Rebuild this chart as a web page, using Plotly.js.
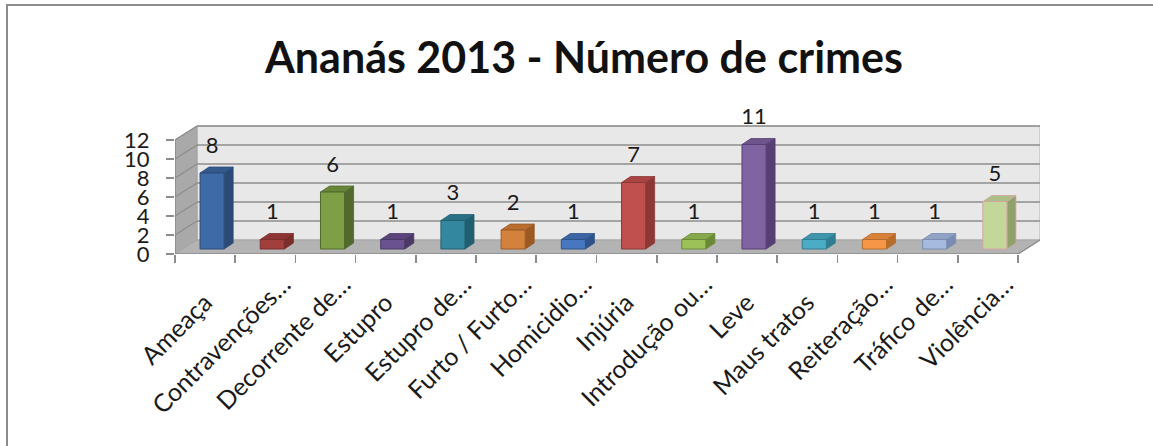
<!DOCTYPE html>
<html>
<head>
<meta charset="utf-8">
<script src="https://cdn.plot.ly/plotly-3.0.1.min.js"></script>
<style>
  html, body { margin: 0; padding: 0; background: #fff; }
  #wrap { position: relative; width: 1153px; height: 446px; overflow: hidden; }
  #chart { position: absolute; left: 0; top: 0; width: 1153px; height: 446px; }
  #frame { position: absolute; left: 6px; top: 4px; width: 1200px; height: 500px;
           border-left: 2px solid #8c8c8c; border-top: 2px solid #8c8c8c; pointer-events: none; }
</style>
</head>
<body>
<div id="wrap">
  <div id="chart"></div>
  <div id="frame"></div>
</div>
<script>
// ---- data ----
const chartTitle = "Ananás 2013 - Número de crimes";
const categories = ["Ameaça", "Contravenções…", "Decorrente de…", "Estupro", "Estupro de…",
  "Furto / Furto…", "Homicidio…", "Injúria", "Introdução ou…", "Leve", "Maus tratos",
  "Reiteração…", "Tráfico de…", "Violência…"];
const values = [8, 1, 6, 1, 3, 2, 1, 7, 1, 11, 1, 1, 1, 5];
const yTickVals = [0, 2, 4, 6, 8, 10, 12];
const yMax = 12;

// ---- styles ----
const frontColors = ['#3e6ba7', '#a23f3c', '#7f9f46', '#6a5190', '#33879f', '#d3823c', '#4677c0',
  '#c0504d', '#9cc158', '#8064a2', '#4bacc6', '#f79646', '#a6b9de', '#c4d79b'];
const sideColors = ['#2b4b76', '#7a2d2b', '#51692c', '#4a3866', '#215f70', '#9b5a24', '#2f5389',
  '#8c3836', '#6b8a38', '#563f73', '#2f7d91', '#b86c2c', '#7a8db0', '#8fa06b'];
const topColors = ['#34598c', '#8e3533', '#688638', '#5a4479', '#2a7186', '#b96d2f', '#3a64a3',
  '#a94442', '#85a84a', '#6d558b', '#3f95ac', '#d88139', '#90a3c6', '#acbe85'];
const outlineColors = sideColors.slice(0, 13).concat(['#d4a5a5']);
const FONT = 'Lato, "Open Sans", sans-serif';

const pxPerCat = 60.2, pxPerUnit = 9.5;
const wallDx = 22 / pxPerCat, wallDy = 14 / pxPerUnit;   // depth of the 3D box
const barDx = 9 / pxPerCat, barDy = 6 / pxPerUnit;       // depth of each bar
const barShift = 7 / pxPerCat, barBase = 5 / pxPerUnit;  // bar placed inside depth
const barW = 0.4;
const labelLift = 2.7;
// untruncated labels sit a little lower-left in the original, as if centred in their slot
const shortPad = '\u00a0\u00a0\u00a0\u00a0';

const idx = categories.map((c, i) => i);
const tickText = categories.map(c => c.endsWith('…') ? c : c + shortPad);
const nCat = categories.length;
const left = -0.5, right = nCat - 0.5;
const boundaries = [];
for (let i = 0; i <= nCat; i++) boundaries.push(i - 0.5);

const shapes = [];
function poly(pts, fill, line, lw) {
  const path = 'M' + pts.map(p => p[0] + ',' + p[1]).join('L') + 'Z';
  shapes.push({type: 'path', xref: 'x', yref: 'y', path: path, fillcolor: fill,
    line: {color: line || fill, width: lw === undefined ? 1 : lw}, layer: 'below'});
}
function seg(x0, y0, x1, y1, color, w) {
  shapes.push({type: 'line', xref: 'x', yref: 'y', x0: x0, y0: y0, x1: x1, y1: y1,
    line: {color: color, width: w || 1.5}, layer: 'below'});
}

// back wall
poly([[left + wallDx, wallDy], [right + wallDx, wallDy], [right + wallDx, yMax + wallDy], [left + wallDx, yMax + wallDy]], '#e8e8e8', '#b4b4b4', 1);
// side wall
poly([[left, 0], [left + wallDx, wallDy], [left + wallDx, yMax + wallDy], [left, yMax]], '#a9a9a9', '#a0a0a0', 1);
// floor
poly([[left, 0], [right, 0], [right + wallDx, wallDy], [left + wallDx, wallDy]], '#b3b3b3', '#a6a6a6', 1);
// gridlines
yTickVals.forEach(v => {
  if (v === 0) return;
  seg(left + wallDx, v + wallDy, right + wallDx, v + wallDy, '#8e8e8e', 1.6);
  seg(left, v, left + wallDx, v + wallDy, '#8e8e8e', 1.4);
});
// front axis lines
seg(left, 0, right, 0, '#8c8c8c', 1.6);
seg(left, 0, left, yMax, '#8c8c8c', 1.6);
seg(right, 0, right + wallDx, wallDy, '#8c8c8c', 1.4);

// bar side and top faces
values.forEach((v, i) => {
  const xl = i + barShift - barW / 2, xr = i + barShift + barW / 2;
  const b = barBase, t = barBase + v;
  poly([[xr, b], [xr + barDx, b + barDy], [xr + barDx, t + barDy], [xr, t]], sideColors[i], outlineColors[i], 0.8);
  poly([[xl, t], [xl + barDx, t + barDy], [xr + barDx, t + barDy], [xr, t]], topColors[i], outlineColors[i], 0.8);
});

const bars = {
  type: 'bar', x: idx, y: values, base: barBase, width: barW, offset: barShift - barW / 2,
  marker: {color: frontColors, line: {color: outlineColors, width: 1}},
  hoverinfo: 'skip', showlegend: false
};
const labels = {
  type: 'scatter', mode: 'text', x: idx.map(i => i + barShift), y: values.map(v => v + barBase + labelLift),
  text: values.map(String), textposition: 'middle center',
  textfont: {family: FONT, size: 22, color: '#1a1a1a'},
  cliponaxis: false, hoverinfo: 'skip', showlegend: false
};

const layout = {
  width: 1153, height: 446,
  margin: {l: 175, r: 113, t: 100, b: 192, pad: 0},
  paper_bgcolor: 'rgba(0,0,0,0)', plot_bgcolor: 'rgba(0,0,0,0)',
  title: {text: '<b>' + chartTitle + '</b>', x: 584 / 1153, xref: 'container', xanchor: 'center',
    y: 1 - 58 / 446, yref: 'container', yanchor: 'middle',
    font: {family: FONT, size: 43, color: '#111'}},
  xaxis: {
    range: [left, right + wallDx], fixedrange: true, showgrid: false, zeroline: false, showline: false,
    tickmode: 'array', tickvals: idx, ticktext: tickText, ticks: '', tickangle: -45,
    ticklabelstandoff: 10, ticklabelshift: 18,
    tickfont: {family: FONT, size: 25, color: '#1a1a1a'},
    minor: {tickmode: 'array', tickvals: boundaries, ticks: 'outside', ticklen: 8, tickcolor: '#8c8c8c', tickwidth: 1.6, showgrid: false}
  },
  yaxis: {
    range: [0, 154 / pxPerUnit], fixedrange: true, showgrid: false, zeroline: false, showline: false,
    tickmode: 'array', tickvals: yTickVals, ticks: 'outside', ticklen: 8, tickcolor: '#8c8c8c', tickwidth: 1.6,
    ticklabelstandoff: 12,
    tickfont: {family: FONT, size: 22, color: '#1a1a1a'}
  },
  shapes: shapes,
  bargap: 0
};

Plotly.newPlot('chart', [bars, labels], layout, {staticPlot: true, displayModeBar: false});
</script>
</body>
</html>
